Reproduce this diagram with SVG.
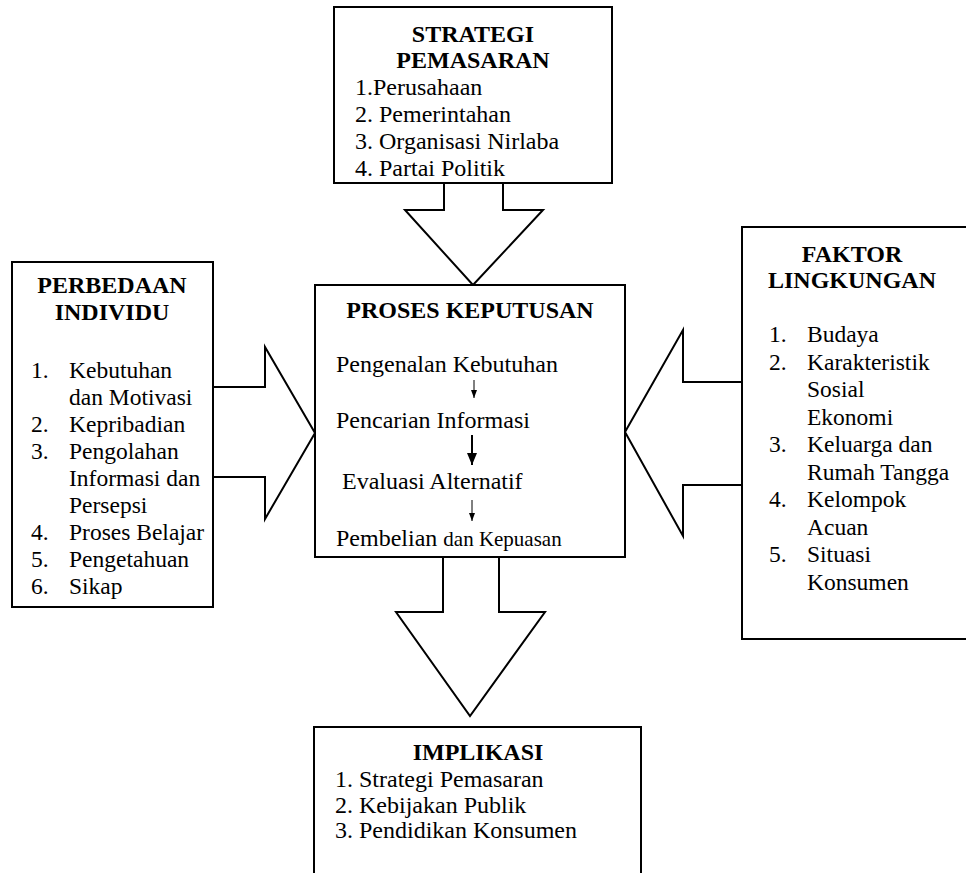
<svg xmlns="http://www.w3.org/2000/svg" width="966" height="873" viewBox="0 0 966 873" font-family="'Liberation Serif', 'Times New Roman', serif">
<style>
.box{fill:#fff;stroke:#000;stroke-width:2}
.arr{fill:#fff;stroke:#000;stroke-width:2;stroke-linejoin:miter}
.t{font-family:'Liberation Serif','Times New Roman',serif;font-size:24px;font-weight:normal;fill:#000}
.s{font-size:23.5px}
.h{font-family:'Liberation Serif','Times New Roman',serif;font-weight:bold;font-size:24px;text-anchor:middle;fill:#000}
.thin{stroke:#000;stroke-width:1;fill:none}
.thick{stroke:#000;stroke-width:2;fill:none}
</style>
<defs>
<marker id="mL" markerWidth="10" markerHeight="12" refX="5" refY="12" markerUnits="userSpaceOnUse" viewBox="0 0 10 12">
<path d="M0,0 L5,12 L10,0 Z" fill="#000"/>
</marker>
<marker id="mT" markerWidth="6" markerHeight="8" refX="3" refY="8" markerUnits="userSpaceOnUse" viewBox="0 0 6 8">
<path d="M0,0 L3,8 L6,0 Z" fill="#000"/>
</marker>
<clipPath id="clipLeft"><rect x="12" y="262" width="200" height="339"/></clipPath>
</defs>

<g id="connectors">
<path class="arr" d="M444,183 L444,210 L405,210 L473,285 L543,210 L503,210 L503,183"/>
<path class="arr" d="M213,387 L265,387 L265,347 L315,433 L265,519 L265,477 L213,477"/>
<path class="arr" d="M742,382 L683,382 L683,330 L625,432 L683,536 L683,485 L742,485"/>
<path class="arr" d="M443,557 L443,612 L396,612 L470,716 L545,612 L499,612 L499,557"/>
</g>

<g id="strategi">
<rect class="box" x="334" y="7" width="278" height="176"/>
<text class="h" x="473" y="42">STRATEGI</text>
<text class="h" x="473" y="68">PEMASARAN</text>
<text class="t" x="355" y="95">1.Perusahaan</text>
<text class="t" x="355" y="122">2. Pemerintahan</text>
<text class="t" x="355" y="149">3. Organisasi Nirlaba</text>
<text class="t" x="355" y="176">4. Partai Politik</text>
</g>

<g id="perbedaan">
<rect class="box" x="12" y="262" width="201" height="345"/>
<text class="h" x="112" y="293">PERBEDAAN</text>
<text class="h" x="112" y="320">INDIVIDU</text>
<g clip-path="url(#clipLeft)">
<text class="t s" x="31" y="378">1.</text><text class="t s" x="69" y="378">Kebutuhan</text>
<text class="t s" x="69" y="405">dan Motivasi</text>
<text class="t s" x="31" y="432">2.</text><text class="t s" x="69" y="432">Kepribadian</text>
<text class="t s" x="31" y="459">3.</text><text class="t s" x="69" y="459">Pengolahan</text>
<text class="t s" x="69" y="486">Informasi dan</text>
<text class="t s" x="69" y="513">Persepsi</text>
<text class="t s" x="31" y="540">4.</text><text class="t s" x="69" y="540">Proses Belajar</text>
<text class="t s" x="31" y="567">5.</text><text class="t s" x="69" y="567">Pengetahuan</text>
<text class="t s" x="31" y="594">6.</text><text class="t s" x="69" y="594">Sikap</text>
</g>
</g>

<g id="proses">
<rect class="box" x="315" y="285" width="310" height="272"/>
<text class="h" x="470" y="318">PROSES KEPUTUSAN</text>
<text class="t" x="336" y="372">Pengenalan Kebutuhan</text>
<line class="thin" x1="474" y1="380" x2="474" y2="398" marker-end="url(#mT)"/>
<text class="t" x="336" y="428">Pencarian Informasi</text>
<line class="thick" x1="472" y1="435" x2="472" y2="465" marker-end="url(#mL)"/>
<text class="t" x="342" y="489">Evaluasi Alternatif</text>
<line class="thin" x1="472" y1="500" x2="472" y2="521" marker-end="url(#mT)"/>
<text class="t" x="336" y="546">Pembelian <tspan font-size="21">dan Kepuasan</tspan></text>
</g>

<g id="faktor">
<rect class="box" x="742" y="227" width="240" height="412"/>
<text class="h" x="852" y="262">FAKTOR</text>
<text class="h" x="852" y="288">LINGKUNGAN</text>
<text class="t s" x="769" y="342">1.</text><text class="t s" x="807" y="342">Budaya</text>
<text class="t s" x="769" y="369.5">2.</text><text class="t s" x="807" y="369.5">Karakteristik</text>
<text class="t s" x="807" y="397">Sosial</text>
<text class="t s" x="807" y="424.5">Ekonomi</text>
<text class="t s" x="769" y="452">3.</text><text class="t s" x="807" y="452">Keluarga dan</text>
<text class="t s" x="807" y="479.5">Rumah Tangga</text>
<text class="t s" x="769" y="507">4.</text><text class="t s" x="807" y="507">Kelompok</text>
<text class="t s" x="807" y="534.5">Acuan</text>
<text class="t s" x="769" y="562">5.</text><text class="t s" x="807" y="562">Situasi</text>
<text class="t s" x="807" y="589.5">Konsumen</text>
</g>

<g id="implikasi">
<rect class="box" x="314" y="727" width="327" height="160"/>
<text class="h" x="478" y="760">IMPLIKASI</text>
<text class="t" x="335" y="787">1. Strategi Pemasaran</text>
<text class="t" x="335" y="812.5">2. Kebijakan Publik</text>
<text class="t" x="335" y="838">3. Pendidikan Konsumen</text>
</g>
</svg>
